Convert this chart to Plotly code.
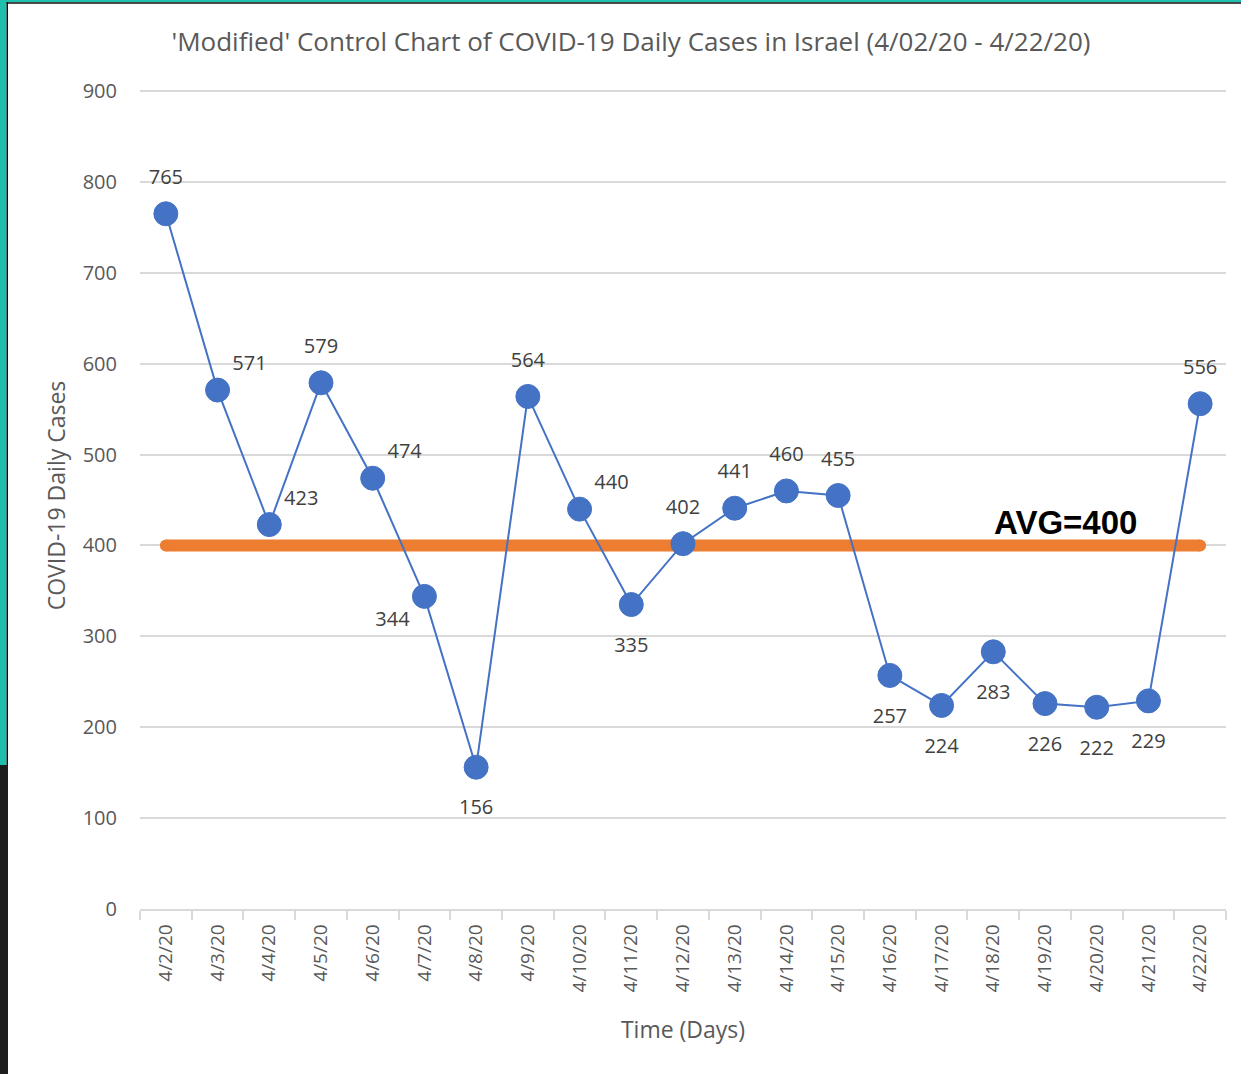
import plotly.graph_objects as go

dates = ["4/2/20", "4/3/20", "4/4/20", "4/5/20", "4/6/20", "4/7/20", "4/8/20",
         "4/9/20", "4/10/20", "4/11/20", "4/12/20", "4/13/20", "4/14/20", "4/15/20",
         "4/16/20", "4/17/20", "4/18/20", "4/19/20", "4/20/20", "4/21/20", "4/22/20"]
cases = [765, 571, 423, 579, 474, 344, 156, 564, 440, 335, 402, 441, 460, 455,
         257, 224, 283, 226, 222, 229, 556]
label_pos = ["top center", "top right", "top right", "top center", "top right",
             "bottom left", "bottom center", "top center", "top right", "bottom center",
             "top center", "top center", "top center", "top center", "bottom center",
             "bottom center", "bottom center", "bottom center", "bottom center",
             "bottom center", "top center"]
avg_value = 400
y_ticks = [0, 100, 200, 300, 400, 500, 600, 700, 800, 900]

W, H = 1241, 1074
Y_MAX = 910
ML, MR, MB = 140, 15, 165
ph = 818 * Y_MAX / 900
MT = H - MB - ph
pw = W - ML - MR

def px(x):
    return (x - ML) / pw

def py(y):
    return (H - MB - y) / ph

FONT = "Open Sans, Noto Sans, sans-serif"
GREY = "#595959"

fig = go.Figure()

fig.add_trace(go.Scatter(
    x=[dates[0], dates[-1]], y=[avg_value, avg_value], mode="lines+markers",
    line=dict(color="#ED7D31", width=12),
    marker=dict(color="#ED7D31", size=12, line=dict(width=0)),
    hoverinfo="skip", showlegend=False))

fig.add_trace(go.Scatter(
    x=dates, y=cases, mode="lines+markers",
    line=dict(color="#4472C4", width=2),
    marker=dict(color="#4472C4", size=24, line=dict(color="#4472C4", width=1)),
    showlegend=False))

# data labels (transparent markers set the label offset)
def gap(p):
    if p == "top center":
        return 38
    if p == "bottom center":
        return 50
    return 22

label_gap = [gap(p) for p in label_pos]
fig.add_trace(go.Scatter(
    x=dates, y=cases, mode="markers+text",
    marker=dict(color="rgba(0,0,0,0)", size=label_gap, line=dict(width=0, color="rgba(0,0,0,0)")),
    text=[str(v) for v in cases], textposition=label_pos,
    textfont=dict(family=FONT, size=20, color="#404040"),
    hoverinfo="skip", showlegend=False))

fig.add_annotation(x=17.4, y=avg_value, xref="x", yref="y", text="<b>AVG=400</b>",
                   showarrow=False, yanchor="bottom", yshift=2,
                   font=dict(family="Liberation Sans, Arial, sans-serif", size=33, color="#000000"))

# frame decorations (teal border)
teal = "#1FBFAE"
fig.add_shape(type="rect", xref="paper", yref="paper", x0=px(0), x1=px(6.5), y0=py(765), y1=py(0),
              fillcolor=teal, line=dict(width=0), layer="above")
fig.add_shape(type="rect", xref="paper", yref="paper", x0=px(0), x1=px(8), y0=py(H), y1=py(765),
              fillcolor="#1E1E1E", line=dict(width=0), layer="above")
fig.add_shape(type="rect", xref="paper", yref="paper", x0=px(6.5), x1=px(8), y0=py(765), y1=py(2),
              fillcolor="#111111", line=dict(width=0), layer="above")
fig.add_shape(type="rect", xref="paper", yref="paper", x0=px(0), x1=px(W), y0=py(2.2), y1=py(0),
              fillcolor=teal, line=dict(width=0), layer="above")
fig.add_shape(type="rect", xref="paper", yref="paper", x0=px(6.5), x1=px(W), y0=py(3.6), y1=py(2.2),
              fillcolor="#111111", line=dict(width=0), layer="above")

fig.update_layout(
    width=W, height=H,
    margin=dict(l=ML, r=MR, t=MT, b=MB),
    paper_bgcolor="white", plot_bgcolor="white",
    title=dict(text="'Modified' Control Chart of COVID-19 Daily Cases in Israel (4/02/20 - 4/22/20)",
               x=631 / W, xanchor="center", y=1 - 42 / H, yanchor="middle",
               font=dict(family=FONT, size=26, color=GREY)),
    font=dict(family=FONT, color=GREY),
)
fig.update_xaxes(
    type="category", categoryorder="array", categoryarray=dates,
    range=[-0.5, len(dates) - 0.5],
    showgrid=False, showline=True, linecolor="#D9D9D9", linewidth=1.5,
    ticks="outside", tickson="boundaries", ticklen=9, tickcolor="#D9D9D9", tickwidth=1.5,
    tickangle=-90, tickfont=dict(family=FONT, size=19, color=GREY), ticklabelstandoff=6,
    title=dict(text="Time (Days)", font=dict(family=FONT, size=23, color=GREY), standoff=30),
    zeroline=False,
)
fig.update_yaxes(
    range=[0, Y_MAX], tickvals=y_ticks, showgrid=True, gridcolor="#D9D9D9", gridwidth=1.5,
    zeroline=False, showline=False, ticks="", ticklabelstandoff=22,
    tickfont=dict(family=FONT, size=20, color=GREY),
    title=dict(text="COVID-19 Daily Cases", font=dict(family=FONT, size=23, color=GREY), standoff=10),
)

fig.write_html("out.html", config={"displayModeBar": False},
               post_script="document.body.style.margin='0';document.body.style.overflow='hidden';")
